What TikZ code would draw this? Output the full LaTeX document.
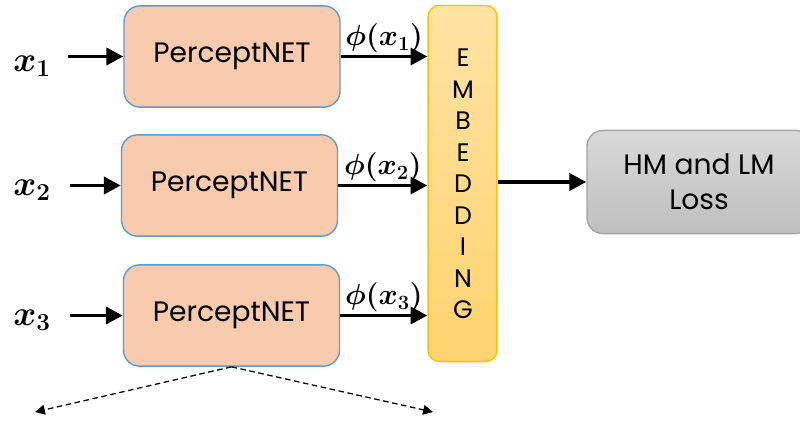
\documentclass[tikz,border=0pt]{standalone}
\usepackage{bm}
\usepackage{fontspec}
\setmainfont{Poppins}
\usetikzlibrary{positioning, arrows.meta}
\definecolor{netfill}{HTML}{F8CBAD}
\definecolor{netdraw}{HTML}{5B9BD5}
\definecolor{embtop}{HTML}{FFE3A3}
\definecolor{embbot}{HTML}{FFD36E}
\definecolor{embdraw}{HTML}{FFC000}
\definecolor{losstop}{HTML}{D9D9D9}
\definecolor{lossbot}{HTML}{BFBFBF}
\definecolor{lossdraw}{HTML}{A5A5A5}
\tikzset{>={Triangle[length=12pt,width=12pt]}, % big solid arrow heads
flow/.style={->, line width=2.8pt}, % the black data arrows
netbox/.style={draw=netdraw, fill=netfill, line width=1pt, rounded corners=0.4cm,
  minimum width=5.4cm, minimum height=2.53cm, font=\fontsize{20}{22}\selectfont}, % PerceptNET boxes
embbox/.style={draw=embdraw, top color=embtop, bottom color=embbot, line width=1pt,
  rounded corners=0.28cm, minimum width=1.72cm, minimum height=8.9cm}, % the tall bar
lossbox/.style={draw=lossdraw, top color=losstop, bottom color=lossbot, line width=1pt,
  rounded corners=0.4cm, minimum width=5.6cm, minimum height=2.58cm, align=center,
  font=\fontsize{20}{25}\selectfont}, % loss box
inlabel/.style={font=\fontsize{24}{26}\selectfont}, % x_i
philabel/.style={font=\fontsize{21}{22}\selectfont, above, inner sep=1pt}, % phi(x_i)
split/.style={->, >={Triangle[length=7pt,width=7pt]}, dashed, line width=0.9pt,
  dash pattern=on 4pt off 2.5pt}, % dashed arrows below
}

\begin{document}
\begin{tikzpicture}[x=0.025cm, y=-0.025cm]
    \useasboundingbox (0,0) rectangle (800,422);
    \node[netbox] (p1) at (232,56.5) {PerceptNET};
    \node[netbox] (p2) at (229.5,185.5) {PerceptNET};
    \node[netbox] (p3) at (231.5,315.5) {PerceptNET};
    \node[embbox] (emb) at (462.5,183.5) {};
    \foreach \c [count=\i from 0] in {E,M,B,E,D,D,I,N,G}
        \node[font=\fontsize{18}{18}\selectfont] (emb\i) at (463,58+31.5*\i) {\c};
    \node[lossbox] (loss) at (699,182) {HM and LM\\Loss};
    \node[inlabel] (x1) at (32,66) {$\bm{x_1}$};
    \node[inlabel] (x2) at (32,190) {$\bm{x_2}$};
    \node[inlabel] (x3) at (32,320) {$\bm{x_3}$};
    \coordinate (in1) at (68,56.5);
    \coordinate (in2) at (70,185.5);
    \coordinate (in3) at (70,315.5);
    \coordinate (left) at (35,412);
    \coordinate (right) at (433,412);
    \draw[flow] (in1) -- (p1);
    \draw[flow] (in2) -- (p2);
    \draw[flow] (in3) -- (p3);
    \draw[flow] (p1.east) -- node[philabel]{$\bm{\phi(x_1)}$} (p1.east -| emb.west);
    \draw[flow] (p2.east) -- node[philabel]{$\bm{\phi(x_2)}$} (p2.east -| emb.west);
    \draw[flow] (p3.east) -- node[philabel]{$\bm{\phi(x_3)}$} (p3.east -| emb.west);
    \draw[flow] (emb.east |- loss.west) -- (loss.west);
    \draw[split] (p3.south) -- (left);
    \draw[split] (p3.south) -- (right);
\end{tikzpicture}
\end{document}
